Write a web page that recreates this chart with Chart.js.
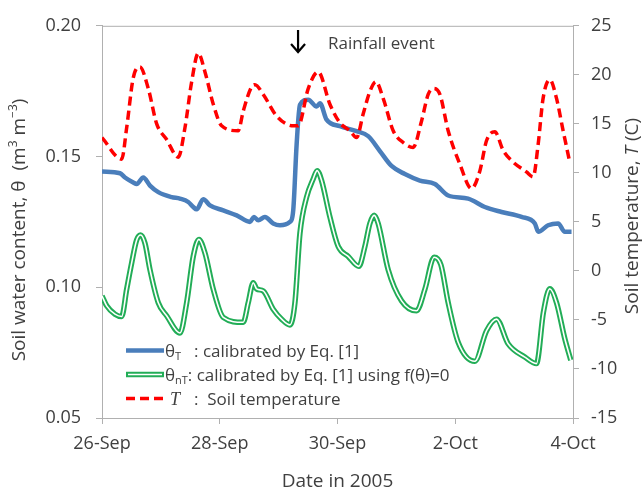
<!DOCTYPE html>
<html>
<head>
<meta charset="utf-8">
<script src="https://cdn.jsdelivr.net/npm/chart.js@4.4.0/dist/chart.umd.min.js"></script>
<style>
html, body { margin: 0; padding: 0; background: #fff; }
canvas { display: block; }
</style>
</head>
<body>
<canvas id="grap1" width="643" height="491"></canvas>
<script>
// days after 26-Sep 00:00
var dayTicks = [0, 2, 4, 6, 8];
var dateLabels = ["26-Sep", "28-Sep", "30-Sep", "2-Oct", "4-Oct"];
var thetaTicks = [0.05, 0.10, 0.15, 0.20];
var tempTicks = [-15, -10, -5, 0, 5, 10, 15, 20, 25];
var rainDay = 3.33;

// theta_T (blue)
var thetaTDays = [0.00, 0.306, 0.390, 0.531, 0.589, 0.701, 0.815, 0.956, 1.183, 1.324, 1.465, 1.550, 1.608, 1.720, 1.834,
    2.059, 2.287, 2.513, 2.581, 2.654, 2.767, 2.908, 3.022, 3.192, 3.248, 3.306, 3.362, 3.503, 3.645, 3.701, 3.815,
    4.041, 4.324, 4.521, 4.720, 4.918, 5.144, 5.399, 5.654, 5.880, 6.219, 6.503, 6.786, 7.126, 7.352, 7.410, 7.577,
    7.747, 7.861, 7.975];
var thetaTValues = [0.1443, 0.1436, 0.1420, 0.1401, 0.1395, 0.1420, 0.1389, 0.1364, 0.1345, 0.1339, 0.1326, 0.1307, 0.1298, 0.1337, 0.1313,
    0.1294, 0.1275, 0.1250, 0.1269, 0.1256, 0.1269, 0.1244, 0.1237, 0.1250, 0.1294, 0.1547, 0.1698, 0.1717, 0.1691, 0.1704, 0.1641,
    0.1616, 0.1597, 0.1578, 0.1521, 0.1464, 0.1433, 0.1408, 0.1395, 0.1351, 0.1339, 0.1307, 0.1288, 0.1269, 0.1244, 0.1212, 0.1237,
    0.1244, 0.1212, 0.1212];

// theta_nT (green)
var thetaNTDays = [0.00, 0.080, 0.221, 0.334, 0.419, 0.504, 0.589, 0.657, 0.730, 0.815, 0.956, 1.098, 1.324, 1.438, 1.550,
    1.647, 1.749, 1.890, 2.059, 2.399, 2.484, 2.569, 2.626, 2.739, 2.908, 3.051, 3.192, 3.277, 3.362, 3.475, 3.587,
    3.655, 3.730, 3.871, 4.012, 4.182, 4.363, 4.465, 4.550, 4.623, 4.691, 4.861, 5.088, 5.343, 5.484, 5.642, 5.756,
    5.880, 6.049, 6.333, 6.532, 6.701, 6.898, 7.182, 7.380, 7.497, 7.606, 7.720, 7.861, 7.963];
var thetaNTValues = [0.0967, 0.0929, 0.0897, 0.0888, 0.0992, 0.1093, 0.1181, 0.1200, 0.1168, 0.1067, 0.0941, 0.0891, 0.0825, 0.0941, 0.1118,
    0.1183, 0.1131, 0.0992, 0.0885, 0.0866, 0.0941, 0.1017, 0.0994, 0.0986, 0.0916, 0.0878, 0.0856, 0.0941, 0.1206, 0.1345, 0.1414,
    0.1446, 0.1408, 0.1269, 0.1156, 0.1118, 0.1080, 0.1156, 0.1244, 0.1275, 0.1244, 0.1067, 0.0948, 0.0910, 0.0992, 0.1115, 0.1086,
    0.0941, 0.0790, 0.0717, 0.0834, 0.0878, 0.0784, 0.0733, 0.0708, 0.0904, 0.0994, 0.0941, 0.0803, 0.0721];

// soil temperature (red, right axis)
var tempDays = [0.00, 0.334, 0.419, 0.531, 0.645, 0.786, 0.929, 1.098, 1.295, 1.409, 1.523, 1.635, 1.749, 1.890, 2.032,
    2.314, 2.399, 2.542, 2.598, 2.739, 2.966, 3.248, 3.333, 3.503, 3.672, 3.871, 4.041, 4.211, 4.324, 4.436, 4.550,
    4.652, 4.776, 4.946, 5.115, 5.285, 5.428, 5.540, 5.625, 5.739, 5.880, 6.078, 6.277, 6.418, 6.532, 6.672, 6.813,
    6.983, 7.210, 7.323, 7.408, 7.492, 7.606, 7.720, 7.832, 7.934];
var tempValues = [13.6, 11.4, 14.6, 19.7, 20.8, 18.6, 15.0, 13.4, 11.6, 14.6, 19.3, 22.2, 20.3, 17.0, 14.8,
    14.3, 16.3, 18.8, 19.0, 18.0, 15.8, 14.8, 14.8, 18.6, 20.3, 17.0, 15.1, 14.3, 13.6, 16.0, 18.3,
    19.3, 17.6, 14.3, 13.1, 12.6, 15.3, 18.0, 18.6, 18.0, 14.3, 10.9, 8.4, 10.2, 13.3, 14.2, 12.3,
    11.1, 10.1, 9.6, 12.9, 17.6, 19.5, 17.6, 14.3, 11.4];

var FAMILY = '"Open Sans", sans-serif';
var textColor = '#404040';
var axisColor = '#b0b0b0';
var blue = '#4a7ebb';
var green = '#22ad57';
var red = '#ff0000';

function pts(xs, ys) {
    return xs.map(function (x, i) { return { x: x, y: ys[i] }; });
}

function F(size, style, family) {
    return (style || '') + ' ' + size + 'px ' + (family || FAMILY);
}

function richWidth(c, parts) {
    var w = 0;
    parts.forEach(function (p) { c.font = p.f; w += c.measureText(p.t).width; });
    return w;
}

function drawRich(c, x, y, parts) {
    parts.forEach(function (p) {
        c.font = p.f;
        c.fillText(p.t, x, y + (p.dy || 0));
        x += c.measureText(p.t).width;
    });
    return x;
}

var extras = {
    id: 'extras',
    afterDraw: function (chart) {
        var c = chart.ctx, a = chart.chartArea;
        c.save();

        // top frame line
        c.strokeStyle = axisColor;
        c.lineWidth = 1;
        c.beginPath();
        c.moveTo(a.left, a.top + 0.5);
        c.lineTo(a.right, a.top + 0.5);
        c.stroke();

        c.fillStyle = textColor;
        c.textBaseline = 'alphabetic';
        c.textAlign = 'left';

        // left axis title
        var leftTitle = [
            { t: 'Soil water content, \u03b8  (m', f: F(19) },
            { t: '3', f: F(12), dy: -8 },
            { t: ' m', f: F(19) },
            { t: '\u22123', f: F(12), dy: -8 },
            { t: ')', f: F(19) }
        ];
        c.save();
        c.translate(25, 230);
        c.rotate(-Math.PI / 2);
        drawRich(c, -richWidth(c, leftTitle) / 2, 0, leftTitle);
        c.restore();

        // right axis title
        var rightTitle = [
            { t: 'Soil temperature, ', f: F(19) },
            { t: 'T', f: F(19, 'italic') },
            { t: ' (C)', f: F(19) }
        ];
        c.save();
        c.translate(638, 216);
        c.rotate(-Math.PI / 2);
        drawRich(c, -richWidth(c, rightTitle) / 2, 0, rightTitle);
        c.restore();

        // rainfall annotation
        var ax = chart.scales.x.getPixelForValue(rainDay);
        c.strokeStyle = '#000';
        c.lineWidth = 2.2;
        c.beginPath();
        c.moveTo(ax, 30);
        c.lineTo(ax, 52);
        c.moveTo(ax - 7, 44);
        c.lineTo(ax, 52);
        c.lineTo(ax + 7, 44);
        c.stroke();
        c.font = F(17);
        c.fillText('Rainfall event', 328, 49);

        // legend
        var lx0 = 126, lx1 = 164;
        c.lineCap = 'butt';
        c.strokeStyle = blue;
        c.lineWidth = 4.5;
        c.beginPath(); c.moveTo(lx0, 350.5); c.lineTo(lx1, 350.5); c.stroke();

        c.strokeStyle = green;
        c.lineWidth = 5.5;
        c.beginPath(); c.moveTo(lx0, 374.5); c.lineTo(lx1, 374.5); c.stroke();
        c.strokeStyle = '#fff';
        c.lineWidth = 1.6;
        c.beginPath(); c.moveTo(lx0 + 2, 374.5); c.lineTo(lx1 - 2, 374.5); c.stroke();

        c.strokeStyle = red;
        c.lineWidth = 3.5;
        c.setLineDash([9, 5]);
        c.beginPath(); c.moveTo(lx0, 398.5); c.lineTo(lx1, 398.5); c.stroke();
        c.setLineDash([]);

        c.fillStyle = textColor;
        drawRich(c, 165, 357, [{ t: '\u03b8', f: F(17) }, { t: 'T', f: F(11), dy: 3 }]);
        drawRich(c, 194, 357, [{ t: ': calibrated by Eq. [1]', f: F(17) }]);
        drawRich(c, 165, 381, [
            { t: '\u03b8', f: F(17) },
            { t: 'nT', f: F(11), dy: 3 },
            { t: ': calibrated by Eq. [1] using f(\u03b8)=0', f: F(17) }
        ]);
        drawRich(c, 170, 405, [{ t: 'T', f: F(18, 'italic', '"Liberation Serif", serif') }]);
        drawRich(c, 194, 405, [{ t: ':  Soil temperature', f: F(17) }]);

        c.restore();
    }
};

var ctx = document.getElementById("grap1").getContext("2d");
var myChart = new Chart(ctx, {
    type: 'line',
    data: {
        datasets: [
            {
                label: 'T',
                data: pts(tempDays, tempValues),
                yAxisID: 'yT',
                borderColor: red,
                borderWidth: 3.5,
                borderDash: [9, 5],
                borderCapStyle: 'butt',
                order: 0
            },
            {
                label: 'thetaNT inner',
                data: pts(thetaNTDays, thetaNTValues),
                yAxisID: 'yTheta',
                borderColor: '#ffffff',
                borderWidth: 1.6,
                order: 1
            },
            {
                label: 'thetaNT',
                data: pts(thetaNTDays, thetaNTValues),
                yAxisID: 'yTheta',
                borderColor: green,
                borderWidth: 5.5,
                order: 2
            },
            {
                label: 'thetaT',
                data: pts(thetaTDays, thetaTValues),
                yAxisID: 'yTheta',
                borderColor: blue,
                borderWidth: 4.5,
                order: 3
            }
        ]
    },
    options: {
        responsive: false,
        animation: false,
        devicePixelRatio: 1,
        layout: { padding: { top: 20, left: 0, right: 0, bottom: 0 } },
        elements: {
            point: { radius: 0 },
            line: { cubicInterpolationMode: 'monotone', borderJoinStyle: 'round', fill: false }
        },
        plugins: {
            legend: { display: false },
            tooltip: { enabled: false }
        },
        scales: {
            x: {
                type: 'linear',
                min: 0,
                max: 8,
                afterBuildTicks: function (s) { s.ticks = dayTicks.map(function (v) { return { value: v }; }); },
                afterFit: function (s) { s.height = 73; },
                ticks: {
                    callback: function (v) { return dateLabels[dayTicks.indexOf(v)]; },
                    font: { family: FAMILY, size: 18 },
                    color: textColor,
                    padding: 9,
                    maxRotation: 0,
                    autoSkip: false
                },
                grid: { drawOnChartArea: false, tickLength: 6, color: axisColor },
                border: { color: axisColor },
                title: {
                    display: true,
                    text: 'Date in 2005',
                    font: { family: FAMILY, size: 19, lineHeight: 1 },
                    color: textColor,
                    padding: 0
                }
            },
            yTheta: {
                position: 'left',
                min: 0.05,
                max: 0.20,
                afterBuildTicks: function (s) { s.ticks = thetaTicks.map(function (v) { return { value: v }; }); },
                afterFit: function (s) { s.width = 102; },
                ticks: {
                    callback: function (v) { return v.toFixed(2); },
                    font: { family: FAMILY, size: 18 },
                    color: textColor,
                    padding: 15
                },
                grid: { drawOnChartArea: false, tickLength: 6, color: axisColor },
                border: { color: axisColor }
            },
            yT: {
                position: 'right',
                min: -15,
                max: 25,
                afterBuildTicks: function (s) { s.ticks = tempTicks.map(function (v) { return { value: v }; }); },
                afterFit: function (s) { s.width = 70; },
                ticks: {
                    font: { family: FAMILY, size: 18 },
                    color: textColor,
                    padding: 12
                },
                grid: { drawOnChartArea: false, tickLength: 6, color: axisColor },
                border: { color: axisColor }
            }
        }
    },
    plugins: [extras]
});
</script>
</body>
</html>
